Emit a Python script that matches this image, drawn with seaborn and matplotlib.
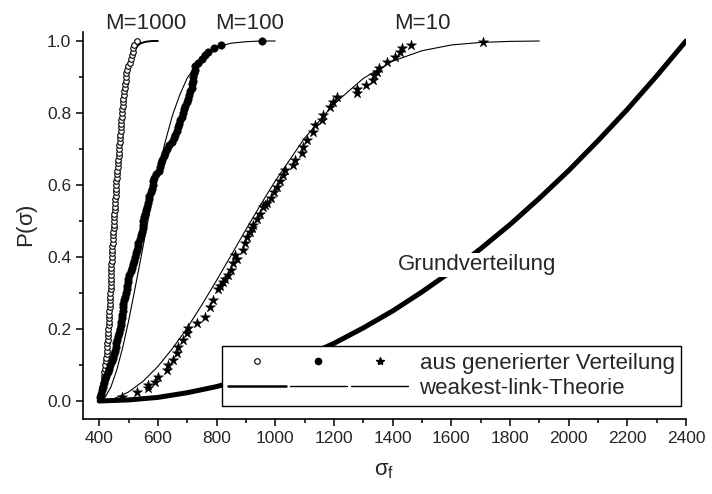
import matplotlib
matplotlib.use("Agg")
import matplotlib.pyplot as plt
import pandas as pd
import seaborn as sns
from matplotlib.legend_handler import HandlerTuple
from matplotlib.lines import Line2D
from matplotlib.ticker import MultipleLocator

# --- Grundverteilung (base distribution), read every 100 units ---
sigma_base = [400, 500, 600, 700, 800, 900, 1000, 1100, 1200, 1300, 1400,
              1500, 1600, 1700, 1800, 1900, 2000, 2100, 2200, 2300, 2400]
p_base = [0.0, 0.003, 0.010, 0.023, 0.040, 0.063, 0.090, 0.123, 0.160, 0.203,
          0.250, 0.303, 0.360, 0.423, 0.490, 0.563, 0.640, 0.723, 0.810,
          0.903, 1.0]

# --- weakest-link theory curves ---
sigma_wl1000 = [400, 410, 420, 430, 440, 450, 460, 470, 480, 490, 500, 510,
                520, 530, 540, 550, 560, 580, 600]
p_wl1000 = [0.0, 0.025, 0.095, 0.202, 0.330, 0.465, 0.594, 0.706, 0.798,
            0.868, 0.918, 0.952, 0.973, 0.986, 0.993, 0.996, 0.998, 1.0, 1.0]

sigma_wl100 = [400, 420, 440, 460, 480, 500, 520, 540, 560, 580, 600, 625,
               650, 675, 700, 750, 800, 850, 900, 950, 1000]
p_wl100 = [0.0, 0.010, 0.039, 0.086, 0.148, 0.221, 0.303, 0.388, 0.474,
           0.557, 0.634, 0.720, 0.794, 0.851, 0.897, 0.955, 0.983, 0.994,
           0.998, 1.0, 1.0]

sigma_wl10 = [400, 450, 500, 550, 600, 650, 700, 750, 800, 850, 900, 950,
              1000, 1100, 1200, 1300, 1400, 1500, 1600, 1700, 1800, 1900]
p_wl10 = [0.0, 0.006, 0.025, 0.055, 0.096, 0.146, 0.203, 0.267, 0.335,
          0.405, 0.476, 0.545, 0.611, 0.730, 0.825, 0.896, 0.944, 0.973,
          0.989, 0.996, 0.999, 1.0]

# --- samples "aus generierter Verteilung" (empirical CDF) ---
p_rank = [0.01, 0.02, 0.03, 0.04, 0.05, 0.06, 0.07, 0.08, 0.09, 0.10,
          0.11, 0.12, 0.13, 0.14, 0.15, 0.16, 0.17, 0.18, 0.19, 0.20,
          0.21, 0.22, 0.23, 0.24, 0.25, 0.26, 0.27, 0.28, 0.29, 0.30,
          0.31, 0.32, 0.33, 0.34, 0.35, 0.36, 0.37, 0.38, 0.39, 0.40,
          0.41, 0.42, 0.43, 0.44, 0.45, 0.46, 0.47, 0.48, 0.49, 0.50,
          0.51, 0.52, 0.53, 0.54, 0.55, 0.56, 0.57, 0.58, 0.59, 0.60,
          0.61, 0.62, 0.63, 0.64, 0.65, 0.66, 0.67, 0.68, 0.69, 0.70,
          0.71, 0.72, 0.73, 0.74, 0.75, 0.76, 0.77, 0.78, 0.79, 0.80,
          0.81, 0.82, 0.83, 0.84, 0.85, 0.86, 0.87, 0.88, 0.89, 0.90,
          0.91, 0.92, 0.93, 0.94, 0.95, 0.96, 0.97, 0.98, 0.99, 1.00]

sigma_gen1000 = [403, 406, 409, 411, 414, 415, 417, 418, 420, 421,
                 423, 424, 426, 427, 428, 428, 429, 430, 430, 431,
                 432, 433, 433, 434, 435, 436, 436, 437, 437, 438,
                 439, 439, 440, 440, 441, 441, 442, 442, 443, 443,
                 444, 444, 445, 446, 446, 447, 448, 449, 449, 450,
                 451, 452, 453, 453, 454, 455, 456, 457, 458, 459,
                 459, 460, 461, 462, 463, 464, 465, 466, 467, 468,
                 469, 470, 471, 472, 473, 474, 475, 476, 477, 478,
                 479, 480, 481, 482, 484, 485, 487, 488, 490, 491,
                 493, 494, 497, 505, 508, 511, 514, 516, 520, 529]

sigma_gen100 = [403, 406, 410, 413, 417, 421, 425, 429, 433, 438,
                443, 447, 451, 455, 457, 459, 461, 464, 467, 470,
                473, 476, 478, 479, 480, 481, 482, 483, 487, 492,
                495, 496, 497, 499, 502, 507, 511, 515, 519, 523,
                526, 528, 531, 533, 538, 543, 547, 548, 549, 551,
                554, 556, 559, 563, 567, 569, 571, 575, 579, 582,
                584, 588, 595, 604, 609, 612, 615, 620, 625, 631,
                639, 647, 654, 659, 664, 668, 673, 677, 681, 686,
                690, 694, 698, 702, 706, 711, 716, 718, 719, 720,
                722, 725, 728, 736, 751, 761, 771, 790, 816, 955]

sigma_gen10 = [477, 528, 567, 565, 591, 601, 631, 636, 652, 666,
               670, 686, 700, 703, 734, 761, 778, 788, 805, 812,
               822, 830, 840, 848, 857, 863, 870, 891, 897, 904,
               914, 920, 925, 937, 949, 959, 966, 972, 985, 996,
               1005, 1015, 1027, 1034, 1061, 1068, 1092, 1095, 1109, 1129,
               1136, 1160, 1163, 1187, 1197, 1211, 1279, 1279, 1310, 1334,
               1337, 1347, 1354, 1381, 1408, 1425, 1432, 1463, 1708]
p_gen10 = [0.012, 0.026, 0.036, 0.044, 0.054, 0.068, 0.086, 0.100, 0.114, 0.133,
           0.150, 0.169, 0.189, 0.203, 0.217, 0.233, 0.260, 0.280, 0.310, 0.320,
           0.330, 0.340, 0.350, 0.365, 0.383, 0.405, 0.395, 0.420, 0.440, 0.456,
           0.470, 0.480, 0.490, 0.505, 0.520, 0.540, 0.545, 0.550, 0.565, 0.580,
           0.595, 0.610, 0.628, 0.642, 0.656, 0.669, 0.690, 0.706, 0.725, 0.747,
           0.767, 0.780, 0.794, 0.817, 0.830, 0.844, 0.856, 0.867, 0.878, 0.892,
           0.906, 0.914, 0.925, 0.942, 0.956, 0.969, 0.980, 0.989, 0.997]

curve_labels = ["M=1000", "M=100", "M=10"]

sns.set_style("ticks")
plt.rcParams["font.family"] = ["Liberation Sans", "DejaVu Sans"]
plt.rcParams["mathtext.fontset"] = "custom"
plt.rcParams["mathtext.rm"] = "Liberation Sans"

fig = plt.figure(figsize=(7.12, 4.94), dpi=100)
ax = fig.add_axes([0.1166, 0.1518, 0.9635 - 0.1166, 0.9352 - 0.1518])

base_df = pd.DataFrame({"sigma": sigma_base, "p": p_base})
sns.lineplot(x="sigma", y="p", data=base_df, color="black", linewidth=3.6, ax=ax)

for sig, p, lw in [(sigma_wl1000, p_wl1000, 1.4),
                   (sigma_wl100, p_wl100, 0.8),
                   (sigma_wl10, p_wl10, 0.8)]:
    sns.lineplot(x=sig, y=p, color="black", linewidth=lw, ax=ax)

sns.scatterplot(x=sigma_gen1000, y=p_rank, marker="o", s=16, facecolor="white",
                edgecolor="black", linewidth=0.8, ax=ax, zorder=3)
sns.scatterplot(x=sigma_gen100, y=p_rank, marker="o", s=28, color="black",
                edgecolor="black", linewidth=0.5, ax=ax, zorder=3)
sns.scatterplot(x=sigma_gen10, y=p_gen10, marker="*", s=60, color="black",
                edgecolor="black", linewidth=0.3, ax=ax, zorder=3)

ax.set_xlim(345, 2400)
ax.set_ylim(-0.05, 1.025)
ax.xaxis.set_major_locator(MultipleLocator(200))
ax.xaxis.set_minor_locator(MultipleLocator(100))
ax.yaxis.set_major_locator(MultipleLocator(0.2))
ax.yaxis.set_minor_locator(MultipleLocator(0.1))
ax.set_xticks(range(400, 2401, 200))
ax.tick_params(which="major", direction="out", length=5, width=1.1,
               labelsize=12.5, color="black")
ax.tick_params(which="minor", direction="out", length=3, width=1.1, color="black")
sns.despine(ax=ax)
for s in ["left", "bottom"]:
    ax.spines[s].set_linewidth(1.2)
    ax.spines[s].set_color("black")

ax.set_xlabel(r"$\mathregular{\sigma_f}$", fontsize=16, labelpad=10)
ax.set_ylabel(r"P($\mathregular{\sigma}$)", fontsize=16, labelpad=5)

for label, xpos in zip(curve_labels, [560, 914, 1500]):
    ax.text(xpos, 1.048, label, ha="center", va="center", fontsize=16, clip_on=False)
ax.text(1688, 0.378, "Grundverteilung", ha="center", va="center", fontsize=16,
        zorder=4, bbox=dict(facecolor="white", edgecolor="none", pad=1))

# legend: three markers / three lines per row
h_gen = (Line2D([], [], ls="none", marker="o", ms=4, mfc="white", mec="black", mew=0.8),
         Line2D([], [], ls="none", marker="o", ms=4.5, mfc="black", mec="black"),
         Line2D([], [], ls="none", marker="*", ms=6, mfc="black", mec="black"))
h_wl = (Line2D([], [], color="black", lw=1.8),
        Line2D([], [], color="black", lw=1.0),
        Line2D([], [], color="black", lw=1.0))
leg = ax.legend([h_gen, h_wl], ["aus generierter Verteilung", "weakest-link-Theorie"],
                handler_map={tuple: HandlerTuple(ndivide=None, pad=0.15)},
                loc="lower right", bbox_to_anchor=(0.992, 0.034), fontsize=16,
                handlelength=8.1, handletextpad=0.5, labelspacing=0.2,
                borderpad=0.3, borderaxespad=0, fancybox=False, framealpha=1)
leg.get_frame().set_edgecolor("black")
leg.get_frame().set_linewidth(1.0)

fig.savefig("out.png", dpi=100)
